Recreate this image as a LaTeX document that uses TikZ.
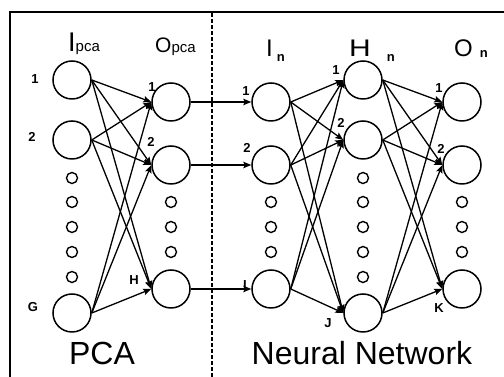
\documentclass[tikz,border=0pt]{standalone}
\usepackage{fontspec}
\setmainfont{Liberation Sans}
\usetikzlibrary{arrows.meta}

% lowered bold index after a layer letter
\newcommand{\lowsub}[1]{\raisebox{-5pt}{\fontsize{13}{13}\selectfont\bfseries #1}}

\begin{document}
\begin{tikzpicture}[x=1pt, y=1pt,
    neuron/.style={draw, circle, line width=1.5pt, minimum size=38pt, inner sep=0pt},
    dotneuron/.style={draw, circle, line width=1.4pt, minimum size=11pt, inner sep=0pt},
    link/.style={line width=1.3pt, -{Stealth[length=8pt, width=6.5pt, inset=1.5pt]}},
    idx/.style={font=\fontsize{13}{13}\selectfont\bfseries, inner sep=0pt},
    header/.style={font=\fontsize{24}{24}\selectfont, inner sep=0pt, anchor=base west},
    title/.style={font=\fontsize{32}{32}\selectfont, inner sep=0pt, anchor=base}]

    \useasboundingbox (0,0) rectangle (504,377);

    % Frame and split line
    \draw[line width=1.8pt] (10,0) -- (10,365) -- (504,365);
    \draw[line width=1.2pt, dash pattern=on 4pt off 2pt] (212,0) -- (212,365);

    % Column headers
    \node[header] (ipca_head) at (68,325)
        {\fontsize{27}{27}\selectfont I\fontsize{15}{15}\selectfont pca};
    \node[header] (opca_head) at (155,324)
        {\fontsize{21}{21}\selectfont O\fontsize{15}{15}\selectfont pca};
    \node[header] (in_head) at (266,320) {I\hspace{4pt}\lowsub{n}};
    \node[header] (hn_head) at (349,320) {\scalebox{1.25}[1]{H}\hspace{16pt}\lowsub{n}};
    \node[header] (on_head) at (454,320) {O\hspace{7pt}\raisebox{-1pt}{\fontsize{13}{13}\selectfont\bfseries n}};

    % PCA input neurons
    \node[neuron] (ipca1) at (72,297){};
    \node[neuron] (ipca2) at (72,237){};
    \node[neuron] (ipcaG) at (72,64){};
    \foreach \y [count=\k] in {199,175,150,125,100}
        \node[dotneuron] (ipcadot\k) at (72,\y){};
    \node[idx] (ipca1_lbl) at (35,298){1};
    \node[idx] (ipca2_lbl) at (32,240){2};
    \node[idx] (ipcaG_lbl) at (33,70){G};

    % PCA output neurons
    \node[neuron] (opca1) at (171,275){};
    \node[neuron] (opca2) at (171,212){};
    \node[neuron] (opcaH) at (171,88){};
    \foreach \y [count=\k] in {175,150,125}
        \node[dotneuron] (opcadot\k) at (171,\y){};
    \node[idx] (opca1_lbl) at (152,290){1};
    \node[idx] (opca2_lbl) at (151,235){2};
    \node[idx] (opcaH_lbl) at (134,97){H};

    % Network input neurons
    \node[neuron] (in1) at (271,275){};
    \node[neuron] (in2) at (271,212){};
    \node[neuron] (inI) at (271,88){};
    \foreach \y [count=\k] in {175,150,125}
        \node[dotneuron] (indot\k) at (271,\y){};
    \node[idx] (in1_lbl) at (246,286){1};
    \node[idx] (in2_lbl) at (247,229){2};
    \node[idx] (inI_lbl) at (245,92){I};

    % Hidden neurons
    \node[neuron] (hn1) at (363,297){};
    \node[neuron] (hn2) at (363,237){};
    \node[neuron] (hnJ) at (363,64){};
    \foreach \y [count=\k] in {199,175,150,125,100}
        \node[dotneuron] (hndot\k) at (363,\y){};
    \node[idx] (hn1_lbl) at (336,307){1};
    \node[idx] (hn2_lbl) at (341,254){2};
    \node[idx] (hnJ_lbl) at (328,54){J};

    % Network output neurons
    \node[neuron] (on1) at (462,275){};
    \node[neuron] (on2) at (462,212){};
    \node[neuron] (onK) at (462,88){};
    \foreach \y [count=\k] in {175,150,125}
        \node[dotneuron] (ondot\k) at (462,\y){};
    \node[idx] (on1_lbl) at (439,289){1};
    \node[idx] (on2_lbl) at (441,228){2};
    \node[idx] (onK_lbl) at (439,69){K};

    % Fully connected layers
    \foreach \src in {ipca1,ipca2,ipcaG}
        \foreach \dst in {opca1,opca2,opcaH}
            \draw[link] (\src.east) -- (\dst.west);
    \foreach \src in {in1,in2,inI}
        \foreach \dst in {hn1,hn2,hnJ}
            \draw[link] (\src.east) -- (\dst.west);
    \foreach \src in {hn1,hn2,hnJ}
        \foreach \dst in {on1,on2,onK}
            \draw[link] (\src.east) -- (\dst.west);

    % PCA outputs feed the network
    \draw[link] (opca1) -- (in1);
    \draw[link] (opca2) -- (in2);
    \draw[link] (opcaH) -- (inI);

    % Block titles
    \node[title] (pca_title) at (102,12){PCA};
    \node[title] (nn_title) at (362,12){Neural Network};

\end{tikzpicture}
\end{document}
